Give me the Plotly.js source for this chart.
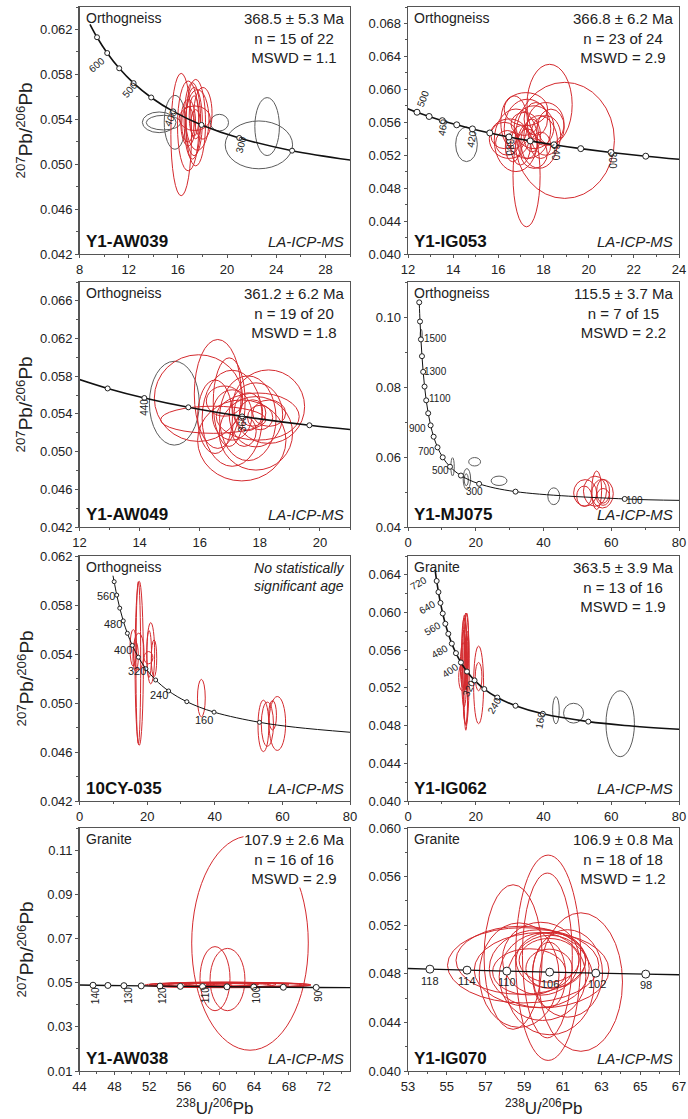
<!DOCTYPE html>
<html><head><meta charset="utf-8">
<script src="https://cdn.plot.ly/plotly-3.0.1.min.js"></script>
<style>html,body{margin:0;padding:0;background:#fff}</style>
</head><body><div id="chart" style="width:688px;height:1119px"></div>
<script>
// ---------- text ----------
const sampleIds = ['Y1-AW039','Y1-IG053','Y1-AW049','Y1-MJ075','10CY-035','Y1-IG062','Y1-AW038','Y1-IG070'];
const rockTypes = ['Orthogneiss','Orthogneiss','Orthogneiss','Orthogneiss','Orthogneiss','Granite','Granite','Granite'];
const ageText = ['368.5 ± 5.3 Ma','366.8 ± 6.2 Ma','361.2 ± 6.2 Ma','115.5 ± 3.7 Ma',null,'363.5 ± 3.9 Ma','107.9 ± 2.6 Ma','106.9 ± 0.8 Ma'];
const nText = ['n = 15 of 22','n = 23 of 24','n = 19 of 20','n = 7 of 15',null,'n = 13 of 16','n = 16 of 16','n = 18 of 18'];
const mswdText = ['MSWD = 1.1','MSWD = 2.9','MSWD = 1.8','MSWD = 2.2',null,'MSWD = 1.9','MSWD = 2.9','MSWD = 1.2'];
const noAgeText = ['No statistically','significant age'];
const methodText = 'LA-ICP-MS';
const yTitle = '<sup>207</sup>Pb/<sup>206</sup>Pb';
const xTitle = '<sup>238</sup>U/<sup>206</sup>Pb';

// ---------- axes ----------
const xRanges = [[8,30],[12,24],[12,21],[0,80],[0,80],[0,80],[44,75],[53,67]];
const yRanges = [[0.042,0.064],[0.040,0.070],[0.042,0.068],[0.04,0.11],[0.042,0.062],[0.040,0.066],[0.01,0.12],[0.040,0.060]];
const xDticks = [4,2,2,20,20,20,4,2];
const yDticks = [0.004,0.004,0.004,0.02,0.004,0.004,0.02,0.004];
const yFormats = ['.3f','.3f','.3f','.2f','.3f','.3f','.2f','.3f'];

// ---------- concordia (marked ages) ----------
const p1_markX = [9.426,10.252,11.228,12.399,13.831,15.621,17.923,20.992,25.289];
const p1_markY = [0.061307,0.059901,0.058539,0.057219,0.055940,0.054701,0.053499,0.052334,0.051204];
const p1_head = [8.852,0.062463], p1_tail = [[31.735,0.050107]];
const p2_markX = [12.399,12.936,13.520,14.157,14.854,15.621,16.469,17.411,18.464,19.649,20.992,22.527];
const p2_markY = [0.057219,0.056703,0.056193,0.055690,0.055192,0.054701,0.054215,0.053736,0.053263,0.052796,0.052334,0.051878];
const p2_head = [11.904,0.057743], p2_tail = [[24.297,0.051427]];
const p3_markX = [12.936,14.157,15.621,17.411,19.649];
const p3_markY = [0.056703,0.055690,0.054701,0.053736,0.052796];
const p3_head = [11.904,0.057743], p3_tail = [[22.527,0.051878]];
const p4_markX = [3.314,3.550,3.817,4.123,4.476,4.888,5.375,5.959,6.674,7.568,8.718,10.252,12.399,15.621,20.992,31.735,63.966];
const p4_markY = [0.104186,0.098715,0.093597,0.088807,0.084323,0.080122,0.076187,0.072500,0.069041,0.065800,0.062757,0.059901,0.057219,0.054701,0.052334,0.050107,0.048015];
const p4_head = null, p4_tail = [[80.08,0.047611]];
const p5_markX = [10.252,11.019,11.904,12.936,14.157,15.621,17.411,19.649,22.527,26.363,31.735,39.792,53.222];
const p5_markY = [0.059901,0.058808,0.057743,0.056703,0.055690,0.054701,0.053736,0.052796,0.051878,0.050982,0.050107,0.049255,0.048424];
const p5_head = [9.895,0.060393], p5_tail = [[63.966,0.048015],[80.08,0.047611]];
const p6_markX = [8.463,8.989,9.581,10.252,11.019,11.904,12.936,14.157,15.621,17.411,19.649,22.527,26.363,31.735,39.792,53.222];
const p6_markY = [0.063349,0.062171,0.061022,0.059901,0.058808,0.057743,0.056703,0.055690,0.054701,0.053736,0.052796,0.051878,0.050982,0.050107,0.049255,0.048424];
const p6_head = [7.992,0.064559], p6_tail = [[63.966,0.048015],[80.08,0.047611]];
const p7_markX = [45.548,47.252,49.090,51.073,53.222,55.557,58.105,60.896,63.966,67.358,71.130];
const p7_markY = [0.048836,0.048733,0.048629,0.048526,0.048424,0.048321,0.048219,0.048116,0.048015,0.047913,0.047812];
const p7_head = [43.96,0.048941], p7_tail = [[75.341,0.047711]];
const p8_markX = [54.132,56.049,58.105,60.317,62.702,65.281];
const p8_markY = [0.048383,0.048300,0.048219,0.048137,0.048055,0.047974];
const p8_head = [52.341,0.048465], p8_tail = [[68.080,0.047893]];

// ---------- concordia age labels ----------
const p1_lbl = ['600','500','400','300'], p1_lblX = [9.42,12.1,15.44,21.12], p1_lblY = [0.05889,0.05667,0.05415,0.05178], p1_lblA = [-40,-50,-65,-75];
const p2_lbl = ['500','460','420','380','340','300'], p2_lblX = [12.68,13.53,14.83,16.48,18.52,21.05], p2_lblY = [0.05883,0.05541,0.05401,0.05300,0.05240,0.05140], p2_lblA = [-70,-80,-80,90,90,90];
const p3_lbl = ['440','360'], p3_lblX = [14.16,17.43], p3_lblY = [0.0547,0.0530], p3_lblA = [-90,-90];
const p4_lbl = ['1500','1300','1100','900','700','500','300','100'], p4_lblX = [8.2,8.19,9.45,2.93,5.56,9.45,19.67,66.9], p4_lblY = [0.09373,0.08451,0.07665,0.06818,0.06147,0.0562,0.05023,0.04764], p4_lblA = [0,0,0,0,0,0,0,0];
const p5_lbl = ['560','480','400','320','240','160'], p5_lblX = [7.84,10.0,12.78,16.92,23.6,36.83], p5_lblY = [0.05871,0.05647,0.05434,0.05264,0.05065,0.04865], p5_lblA = [0,0,0,0,0,0];
const p6_lbl = ['720','640','560','480','400','320','240','160'], p6_lblX = [2.96,5.62,7.29,9.35,12.49,17.9,25.57,39.04], p6_lblY = [0.0631,0.0605,0.0583,0.05591,0.05381,0.05199,0.05013,0.04855], p6_lblA = [-30,-30,-30,-30,-35,-65,-60,-80];
const p7_lbl = ['140','130','120','110','100','90'], p7_lblX = [45.86,49.6,53.53,58.46,64.23,71.37], p7_lblY = [0.0442,0.0442,0.0442,0.0442,0.0442,0.0442], p7_lblA = [-90,-90,-90,-90,-90,-90];
const p8_lbl = ['118','114','110','106','102','98'], p8_lblX = [54.14,56.04,58.11,60.33,62.74,65.32], p8_lblY = [0.0474,0.0474,0.0473,0.0472,0.0472,0.0471], p8_lblA = [0,0,0,0,0,0];

// ---------- error ellipses [centre x, centre y, half width, half height] ----------
const p1_red = [[16.27,0.05264,0.84,0.00545],[16.84,0.05341,0.87,0.0040],[17.32,0.0538,0.67,0.00304],[17.59,0.05394,0.94,0.0027],[18.04,0.05453,0.74,0.0023],[16.84,0.0537,0.6,0.00207],[17.18,0.05385,0.67,0.0034],[17.37,0.05409,1.27,0.0011],[17.32,0.0543,0.4,0.0018],[17.45,0.0537,0.8,0.00385],[17.45,0.05356,0.4,0.0013],[16.81,0.05356,0.5,0.0016]];
const p1_grey = [[14.48,0.05373,1.37,0.00092],[14.83,0.0537,1.4,0.00065],[15.76,0.05373,0.87,0.0024],[19.38,0.0537,0.74,0.00074],[22.59,0.05172,2.74,0.00213],[23.26,0.05335,1.0,0.00258]];
const p2_red = [[18.94,0.0538,2.2,0.00705],[18.27,0.05814,1.0,0.0049],[17.25,0.0495,0.6,0.0062],[16.48,0.05401,0.88,0.0024],[16.78,0.05381,0.96,0.0038],[16.7,0.0560,0.59,0.0032],[17.29,0.0552,1.03,0.0036],[17.81,0.05361,0.81,0.0032],[18.1,0.0558,0.81,0.0026],[18.1,0.0544,0.66,0.0024],[16.98,0.0532,0.44,0.0024],[17.29,0.0534,0.44,0.0018],[17.66,0.0564,0.52,0.002],[16.26,0.0544,0.59,0.0016],[18.33,0.0554,0.59,0.0022],[16.64,0.0530,0.33,0.0018],[17.58,0.0522,0.59,0.0018],[17.22,0.0576,0.96,0.002],[17.15,0.0558,0.59,0.0014],[17.5,0.0544,0.37,0.002],[16.4,0.0535,0.52,0.0015],[17.88,0.0532,0.44,0.0016],[17.58,0.0554,0.88,0.0026]];
const p2_grey = [[14.59,0.05332,0.48,0.0021]];
const p3_red = [[16.6,0.05612,0.78,0.00578],[15.96,0.05568,1.47,0.0046],[16.45,0.05338,1.75,0.00144],[18.29,0.05477,1.2,0.0039],[17.4,0.05119,1.47,0.0043],[17.08,0.05354,1.0,0.0051],[17.6,0.05354,0.94,0.0045],[17.87,0.0539,0.89,0.0034],[17.76,0.0541,0.44,0.0014],[17.62,0.05424,0.47,0.002],[17.08,0.05389,0.66,0.00267],[16.82,0.05536,0.6,0.0016],[18.31,0.05408,0.55,0.0014],[16.51,0.0537,0.58,0.0039],[17.93,0.05372,1.38,0.0025],[18.01,0.05362,0.42,0.0013],[17.87,0.05194,1.22,0.0039],[17.48,0.05215,0.4,0.0016],[16.98,0.05525,0.53,0.0047]];
const p3_grey = [[15.155,0.05514,0.83,0.00445]];
const p4_red = [[52.3,0.04974,3.4,0.0038],[55.2,0.05023,3.4,0.0043],[57.4,0.04952,3.2,0.0041],[55.7,0.0505,1.46,0.0055],[57.6,0.0486,1.95,0.0024],[52.0,0.0488,2.2,0.0029],[57.6,0.0502,1.9,0.0034]];
const p4_grey = [[13.15,0.0572,0.5,0.0026],[17.39,0.05369,1.1,0.003],[17.2,0.0535,0.6,0.0017],[19.67,0.05864,1.75,0.0012],[26.88,0.0532,2.34,0.00134],[43.03,0.04879,1.75,0.0024],[3.9,0.0948,0.3,0.0017]];
const p5_red = [[17.66,0.05324,1.23,0.0067],[17.4,0.0533,0.7,0.0066],[15.92,0.0545,0.99,0.0015],[17.5,0.0542,1.58,0.0015],[21.07,0.05406,1.15,0.0025],[20.6,0.0540,0.7,0.0019],[22.04,0.05365,0.8,0.0015],[20.4,0.0537,1.3,0.0005],[36.04,0.0504,1.15,0.00153],[54.39,0.04813,1.6,0.0021],[55.57,0.04827,1.8,0.0018],[58.5,0.04833,2.46,0.0022],[57.1,0.0490,1.15,0.0012],[16.6,0.0538,0.8,0.0012]];
const p5_grey = [];
const p6_red = [[17.1,0.05399,0.98,0.00596],[16.57,0.05468,0.83,0.0047],[16.28,0.0544,0.83,0.0024],[17.07,0.05241,0.55,0.0049],[20.84,0.05232,1.47,0.00412],[20.84,0.0532,0.98,0.0015],[16.7,0.05574,0.7,0.004],[17.3,0.05705,0.6,0.0029],[15.94,0.05311,0.98,0.0014],[16.98,0.0503,0.64,0.0021],[17.5,0.0560,0.5,0.0020],[17.3,0.0548,0.45,0.0030],[16.9,0.0553,0.35,0.0035]];
const p6_grey = [[43.67,0.04963,0.98,0.00144],[48.87,0.04932,2.95,0.00105],[62.64,0.0482,4.2,0.0035]];
const p7_red = [[63.54,0.0679,6.68,0.0485],[59.53,0.0518,1.72,0.0145],[60.96,0.0514,2.0,0.0141],[58,0.0491,6.0,0.0009],[60,0.0490,8.0,0.0010],[61,0.0489,9.5,0.0012],[62,0.0490,8.5,0.0011],[59,0.0489,5.0,0.0008],[63,0.0490,7.0,0.0010],[57,0.0488,4.5,0.0009],[60.5,0.0492,4.0,0.0008],[64,0.0489,5.5,0.0009],[61.5,0.0491,3.0,0.0007],[58.5,0.0490,2.5,0.0006],[62.5,0.0488,3.5,0.0008],[60,0.0491,6.5,0.0012]];
const p7_grey = [];
const p8_red = [[60.24,0.04932,1.68,0.00845],[58.43,0.04938,1.5,0.00595],[60.2,0.04951,1.29,0.00678],[61.93,0.04732,2.15,0.0057],[58.95,0.0487,3.91,0.0031],[58.83,0.04911,3.35,0.0028],[59.9,0.0483,3.48,0.0031],[59.78,0.04843,2.58,0.0032],[59.86,0.04924,1.98,0.0030],[59.95,0.04776,2.24,0.0036],[60.38,0.04911,1.8,0.0023],[59.26,0.04816,1.89,0.0019],[60.29,0.04911,1.55,0.0018],[58.74,0.04789,2.06,0.0043],[61.24,0.04803,1.81,0.0036],[60.33,0.04708,2.28,0.0041],[60.29,0.04843,1.2,0.0016],[60.29,0.0479,0.86,0.0027]];
const p8_grey = [];

// ---------- assemble ----------
const markX = [p1_markX,p2_markX,p3_markX,p4_markX,p5_markX,p6_markX,p7_markX,p8_markX];
const markY = [p1_markY,p2_markY,p3_markY,p4_markY,p5_markY,p6_markY,p7_markY,p8_markY];
const heads = [p1_head,p2_head,p3_head,p4_head,p5_head,p6_head,p7_head,p8_head];
const tails = [p1_tail,p2_tail,p3_tail,p4_tail,p5_tail,p6_tail,p7_tail,p8_tail];
const lbls = [p1_lbl,p2_lbl,p3_lbl,p4_lbl,p5_lbl,p6_lbl,p7_lbl,p8_lbl];
const lblX = [p1_lblX,p2_lblX,p3_lblX,p4_lblX,p5_lblX,p6_lblX,p7_lblX,p8_lblX];
const lblY = [p1_lblY,p2_lblY,p3_lblY,p4_lblY,p5_lblY,p6_lblY,p7_lblY,p8_lblY];
const lblA = [p1_lblA,p2_lblA,p3_lblA,p4_lblA,p5_lblA,p6_lblA,p7_lblA,p8_lblA];
const reds = [p1_red,p2_red,p3_red,p4_red,p5_red,p6_red,p7_red,p8_red];
const greys = [p1_grey,p2_grey,p3_grey,p4_grey,p5_grey,p6_grey,p7_grey,p8_grey];

const W = 688, H = 1119;
const colPx = [[79.5,350],[408,679]];
const rowPx = [[7,254],[282,527],[556,801],[828,1071]];
const FONT = 'Liberation Sans, Arial, sans-serif';
const RED = '#d42a2e', GREY = '#5c5c5c';
const markSize = [5,6,5,5,4,5,6,8];
const lineW = [1.6,1.6,1.6,1.0,1.0,1.6,1.4,1.4];
const lblSize = [10,10,10,10,11,10,10,11];

const traces = [], shapes = [], annotations = [];
const layout = {width:W, height:H, margin:{l:0,r:0,t:0,b:0}, paper_bgcolor:'#fff', plot_bgcolor:'#fff', showlegend:false, font:{family:FONT, color:'#222'}};

for (let i = 0; i < 8; i++) {
  const s = i === 0 ? '' : String(i + 1);
  const col = i % 2, row = Math.floor(i / 2);
  const xd = [colPx[col][0] / W, colPx[col][1] / W];
  const yd = [1 - rowPx[row][1] / H, 1 - rowPx[row][0] / H];
  const axCommon = {showline:true, mirror:true, linecolor:'#555', linewidth:1.3, ticks:'outside', ticklen:3, tickcolor:'#555', showgrid:false, zeroline:false, tickfont:{size:13, family:FONT, color:'#222'}};
  layout['xaxis' + s] = Object.assign({}, axCommon, {domain:xd, anchor:'y' + s, range:xRanges[i], tick0:xRanges[i][0], dtick:xDticks[i], minor:{ticks:'outside', ticklen:2, dtick:xDticks[i]/2, tickcolor:'#555'}});
  layout['yaxis' + s] = Object.assign({}, axCommon, {domain:yd, anchor:'x' + s, range:yRanges[i], tick0:yRanges[i][0], dtick:yDticks[i], tickformat:yFormats[i], minor:{ticks:'outside', ticklen:2, dtick:yDticks[i]/2, tickcolor:'#555'}});

  // concordia curve
  const cx = [], cy = [];
  if (heads[i]) { cx.push(heads[i][0]); cy.push(heads[i][1]); }
  markX[i].forEach((v, k) => { cx.push(v); cy.push(markY[i][k]); });
  tails[i].forEach(p => { cx.push(p[0]); cy.push(p[1]); });
  traces.push({x:cx, y:cy, xaxis:'x' + s, yaxis:'y' + s, mode:'lines', line:{color:'#111', width:lineW[i], shape:'spline', smoothing:1}, hoverinfo:'skip'});
  traces.push({x:markX[i], y:markY[i], xaxis:'x' + s, yaxis:'y' + s, mode:'markers', marker:{symbol:'circle', size:markSize[i], color:'#fff', line:{color:'#222', width:1}}, hoverinfo:'skip'});

  // ellipses
  const addEll = (arr, color) => arr.forEach(e => shapes.push({type:'circle', xref:'x' + s, yref:'y' + s, x0:e[0] - e[2], x1:e[0] + e[2], y0:e[1] - e[3], y1:e[1] + e[3], line:{color:color, width:1}, layer:'below'}));
  addEll(greys[i], GREY);
  addEll(reds[i], RED);

  // age labels
  lbls[i].forEach((t, k) => annotations.push({text:t, x:lblX[i][k], y:lblY[i][k], xref:'x' + s, yref:'y' + s, showarrow:false, textangle:lblA[i][k], font:{size:lblSize[i], family:FONT, color:'#222'}}));

  const xdr = 'x' + s + ' domain', ydr = 'y' + s + ' domain';
  annotations.push({text:rockTypes[i], xref:xdr, yref:ydr, x:0.015, y:0.995, xanchor:'left', yanchor:'top', showarrow:false, font:{size:14, family:FONT, color:'#222'}});
  if (ageText[i]) {
    annotations.push({text:ageText[i] + '<br>' + nText[i] + '<br>' + mswdText[i], xref:xdr, yref:ydr, x:0.985, y:0.99, xanchor:'right', yanchor:'top', align:'center', showarrow:false, bgcolor: i === 6 ? '#fff' : 'rgba(0,0,0,0)', borderpad:0, font:{size:15, family:FONT, color:'#222'}});
  } else {
    annotations.push({text:'<i>' + noAgeText.join('<br>') + '</i>', xref:xdr, yref:ydr, x:0.99, y:0.99, xanchor:'right', yanchor:'top', align:'right', showarrow:false, font:{size:14, family:FONT, color:'#222'}});
  }
  annotations.push({text:'<b>' + sampleIds[i] + '</b>', xref:xdr, yref:ydr, x:0.015, y:0.005, xanchor:'left', yanchor:'bottom', showarrow:false, font:{size:17, family:FONT, color:'#111'}});
  annotations.push({text:'<i>' + methodText + '</i>', xref:xdr, yref:ydr, x:0.985, y:0.01, xanchor:'right', yanchor:'bottom', showarrow:false, font:{size:15, family:FONT, color:'#222'}});

  if (col === 0) {
    annotations.push({text:yTitle, xref:'paper', yref:'paper', x:25 / W, y:(yd[0] + yd[1]) / 2, xanchor:'center', yanchor:'middle', textangle:-90, showarrow:false, font:{size:19, family:FONT, color:'#222'}});
  }
  if (row === 3) {
    annotations.push({text:xTitle, xref:'paper', yref:'paper', x:(xd[0] + xd[1]) / 2, y:1 - 1107 / H, xanchor:'center', yanchor:'middle', showarrow:false, font:{size:17, family:FONT, color:'#222'}});
  }
}
layout.shapes = shapes;
layout.annotations = annotations;
Plotly.newPlot('chart', traces, layout, {displayModeBar:false, staticPlot:true});
</script></body></html>
